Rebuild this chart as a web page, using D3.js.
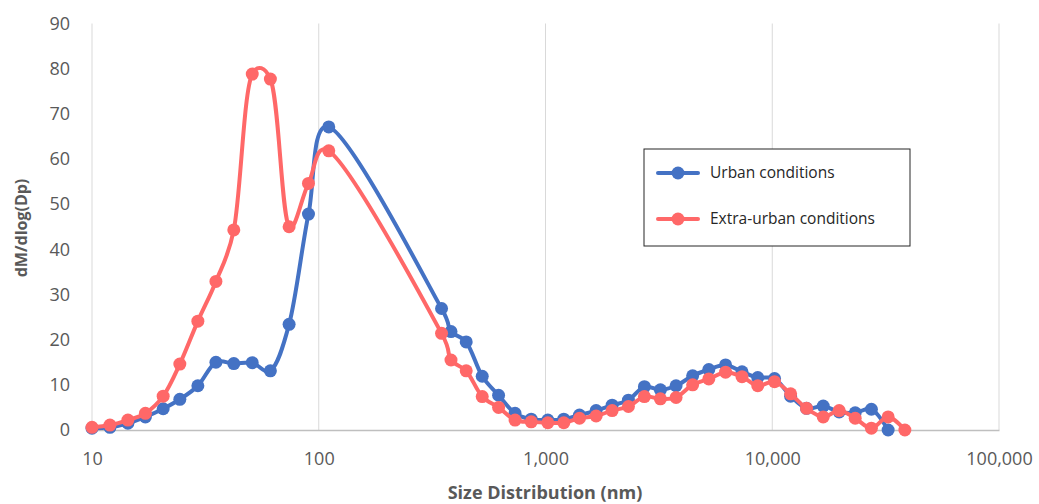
<!DOCTYPE html>
<html>
<head>
<meta charset="utf-8">
<script src="https://cdn.jsdelivr.net/npm/d3@7"></script>
<style>
  body { margin: 0; background: #fff; }
  text { font-family: "Open Sans", "Liberation Sans", sans-serif; }
</style>
</head>
<body>
<div id="chart"></div>
<script>
// particle size bins (nm)
var sizes = [10, 12, 14.4, 17.2, 20.6, 24.4, 29.3, 35.2, 42.2, 50.9, 61.2, 74, 90.1, 110.7,
    348, 383, 447, 526, 621, 734, 865, 1024, 1204, 1412, 1672, 1967, 2321, 2730, 3212, 3765,
    4456, 5250, 6225, 7357, 8630, 10235, 12050, 14160, 16780, 19730, 23220, 27370, 32440, 38450];

var urban = [0.4, 0.6, 1.5, 2.9, 4.7, 6.8, 9.8, 15.0, 14.7, 14.9, 13.1, 23.4, 47.8, 67.1,
    26.9, 21.8, 19.5, 11.9, 7.7, 3.7, 2.4, 2.2, 2.4, 3.3, 4.3, 5.5, 6.6, 9.6, 8.9, 9.8,
    12.0, 13.4, 14.4, 12.9, 11.6, 11.4, 7.5, 4.8, 5.3, 4.0, 3.8, 4.6, 0, null];

var extraUrban = [0.6, 1.1, 2.2, 3.7, 7.5, 14.6, 24.1, 32.9, 44.3, 78.8, 77.7, 45.0, 54.6, 61.8,
    21.4, 15.5, 13.1, 7.4, 5.0, 2.2, 1.8, 1.6, 1.6, 2.6, 3.1, 4.3, 5.2, 7.4, 6.9, 7.2,
    10.0, 11.3, 12.8, 11.8, 9.8, 10.7, 8.0, 4.8, 2.9, 4.3, 2.6, 0.4, 2.9, 0];

var seriesNames = ["Urban conditions", "Extra-urban conditions"];
var seriesColors = ["#4472C4", "#FF6868"];
var xTicks = [10, 100, 1000, 10000, 100000];
var yTicks = [0, 10, 20, 30, 40, 50, 60, 70, 80, 90];

var margin = { top: 23.5, right: 40, bottom: 74, left: 92 };
var width = 1039 - margin.left - margin.right;
var height = 504 - margin.top - margin.bottom;

var x = d3.scaleLog()
    .domain([10, 100000])
    .range([0, width]);

var y = d3.scaleLinear()
    .domain([0, 90])
    .range([height, 0]);

var svg = d3.select("#chart")
    .append("svg")
    .attr("width", 1039)
    .attr("height", 504);

var fig = svg.append("g")
    .attr("transform", "translate(" + margin.left + "," + margin.top + ")");

// vertical gridlines
fig.selectAll(".grid")
    .data(xTicks)
    .enter().append("line")
    .attr("x1", d => x(d))
    .attr("x2", d => x(d))
    .attr("y1", 0)
    .attr("y2", height)
    .attr("stroke", "#d9d9d9")
    .attr("stroke-width", 1);

// x axis
var xAxis = fig.append("g")
    .attr("transform", "translate(0," + height + ")")
    .call(d3.axisBottom(x).tickValues(xTicks).tickSize(0).tickPadding(22)
        .tickFormat(d3.format(",")));
xAxis.select(".domain").attr("stroke", "#bfbfbf").attr("stroke-width", 1.3);
xAxis.selectAll("text")
    .attr("fill", "#595959")
    .style("font-size", "18px");

// y axis
var yAxis = fig.append("g")
    .call(d3.axisLeft(y).tickValues(yTicks).tickSize(0).tickPadding(22));
yAxis.select(".domain").remove();
yAxis.selectAll("text")
    .attr("fill", "#595959")
    .style("font-size", "18px");

var line = d3.line()
    .defined(d => d[1] != null)
    .x(d => x(d[0]))
    .y(d => y(d[1]))
    .curve(d3.curveCatmullRom.alpha(0.25));

var allSeries = [urban, extraUrban];

allSeries.forEach(function (vals, i) {
    var pts = sizes.map((s, j) => [s, vals[j]]).filter(d => d[1] != null);

    fig.append("path")
        .datum(pts)
        .attr("fill", "none")
        .attr("stroke", seriesColors[i])
        .attr("stroke-width", 4)
        .attr("stroke-linejoin", "round")
        .attr("d", line);

    fig.append("g")
        .selectAll("circle")
        .data(pts)
        .enter().append("circle")
        .attr("cx", d => x(d[0]))
        .attr("cy", d => y(d[1]))
        .attr("r", 6.5)
        .attr("fill", seriesColors[i]);
});

// axis titles
svg.append("text")
    .attr("transform", "rotate(-90)")
    .attr("x", -228)
    .attr("y", 27)
    .attr("text-anchor", "middle")
    .attr("fill", "#595959")
    .style("font-size", "16px")
    .style("font-weight", "bold")
    .text("dM/dlog(Dp)");

svg.append("text")
    .attr("x", 545)
    .attr("y", 499)
    .attr("text-anchor", "middle")
    .attr("fill", "#595959")
    .style("font-size", "18px")
    .style("font-weight", "bold")
    .text("Size Distribution (nm)");

// legend
var legend = svg.append("g")
    .attr("transform", "translate(644,149)");

legend.append("rect")
    .attr("width", 266)
    .attr("height", 97)
    .attr("fill", "#fff")
    .attr("stroke", "#262626")
    .attr("stroke-width", 1);

seriesNames.forEach(function (name, i) {
    var ly = 24 + i * 46;
    legend.append("line")
        .attr("x1", 14)
        .attr("x2", 54)
        .attr("y1", ly)
        .attr("y2", ly)
        .attr("stroke", seriesColors[i])
        .attr("stroke-width", 4)
        .attr("stroke-linecap", "round");
    legend.append("circle")
        .attr("cx", 34)
        .attr("cy", ly)
        .attr("r", 6.5)
        .attr("fill", seriesColors[i]);
    legend.append("text")
        .attr("x", 66)
        .attr("y", ly)
        .attr("dy", "0.35em")
        .attr("fill", "#262626")
        .style("font-size", "15.5px")
        .text(name);
});
</script>
</body>
</html>
